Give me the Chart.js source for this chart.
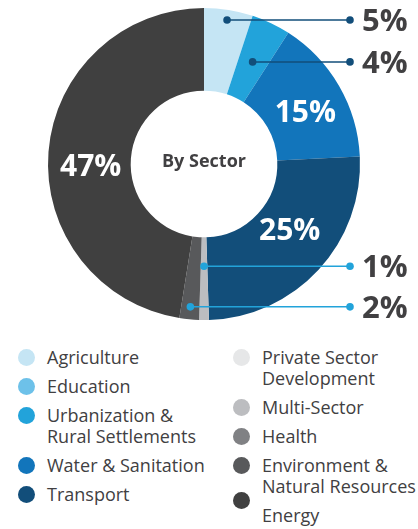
<!DOCTYPE html>
<html>
<head>
<meta charset="utf-8">
<script src="https://cdn.jsdelivr.net/npm/chart.js@4/dist/chart.umd.min.js"></script>
<style>
  html, body { margin: 0; padding: 0; background: #fff; }
  body { width: 418px; height: 529px; position: relative; overflow: hidden; font-family: "Open Sans", sans-serif; color: #414042; }
  #wrap { position: absolute; left: 0; top: 0; width: 418px; height: 328px; }
  #legend { position: absolute; left: 0; top: 347px; width: 418px; font-size: 18px; line-height: 21px; }
  .col { position: absolute; top: 0; }
  .item { display: flex; align-items: flex-start; margin-bottom: 8px; white-space: nowrap; }
  .dot { width: 17px; height: 17px; border-radius: 50%; flex: none; margin-top: 2px; margin-right: 12px; }
  .item.drop { margin-top: -15px; }
  .item.drop .txt { margin-top: 15px; }
</style>
</head>
<body>
<div id="wrap"><canvas id="chart"></canvas></div>
<div id="legend"></div>
<script>
const sectors = [
  "Agriculture", "Urbanization & Rural Settlements", "Water & Sanitation", "Transport",
  "Multi-Sector", "Environment & Natural Resources", "Energy"
];
const shares = [5, 4, 15, 25, 1, 2, 47];
const sectorColors = ["#c5e5f4", "#22a3da", "#1275bb", "#124e7a", "#bcbdc0", "#58595b", "#404040"];

// legend order (includes sectors with no share)
const legendLeft = [
  ["Agriculture", "#c5e5f4"],
  ["Education", "#6dc1e9"],
  ["Urbanization &\nRural Settlements", "#22a3da"],
  ["Water & Sanitation", "#1275bb"],
  ["Transport", "#124e7a"]
];
const legendRight = [
  ["Private Sector\nDevelopment", "#e6e7e8"],
  ["Multi-Sector", "#bcbdc0"],
  ["Health", "#808184"],
  ["Environment &\nNatural Resources", "#58595b"],
  ["Energy", "#404040"]
];

function buildCol(items, left) {
  const col = document.createElement("div");
  col.className = "col";
  col.style.left = left + "px";
  items.forEach(([name, color]) => {
    const it = document.createElement("div");
    it.className = "item" + (name === "Energy" ? " drop" : "");
    const d = document.createElement("span");
    d.className = "dot";
    d.style.background = color;
    const t = document.createElement("span");
    t.className = "txt";
    t.innerHTML = name.replace("&", "&amp;").replace("\n", "<br>");
    it.appendChild(d);
    it.appendChild(t);
    col.appendChild(it);
  });
  document.getElementById("legend").appendChild(col);
}
buildCol(legendLeft, 18);
buildCol(legendRight, 233);

const sliceLabels = {
  id: "sliceLabels",
  afterDatasetsDraw(chart, args, opts) {
    const ctx = chart.ctx;
    const meta = chart.getDatasetMeta(0);
    let k = 0, n = 0;
    meta.data.forEach((arc, i) => {
      const v = shares[i];
      if (!v) return;
      const p = arc.getProps(["x", "y", "startAngle", "endAngle", "innerRadius", "outerRadius"], true);
      const mid = (p.startAngle + p.endAngle) / 2;
      ctx.save();
      if (v >= 10) {
        const r = (p.innerRadius + p.outerRadius) / 2;
        const [ox, oy] = opts.insideNudge[n++];
        ctx.fillStyle = "#fff";
        ctx.font = "bold 30px 'Open Sans'";
        ctx.textAlign = "center";
        ctx.textBaseline = "middle";
        ctx.fillText(v + "%", p.x + r * Math.cos(mid) + ox, p.y + r * Math.sin(mid) + oy);
      } else {
        const r = p.outerRadius * opts.dotRadius[k];
        const dx = p.x + r * Math.cos(mid);
        const dy = p.y + r * Math.sin(mid);
        const c = opts.leaderColor[k];
        ctx.strokeStyle = c;
        ctx.fillStyle = c;
        ctx.lineWidth = 1.5;
        ctx.beginPath();
        ctx.moveTo(dx, dy);
        ctx.lineTo(opts.lineEnd, dy);
        ctx.stroke();
        [dx, opts.lineEnd].forEach((x) => {
          ctx.beginPath();
          ctx.arc(x, dy, 3.8, 0, Math.PI * 2);
          ctx.fill();
        });
        ctx.fillStyle = "#414042";
        ctx.font = "bold 31px 'Open Sans'";
        ctx.textAlign = "left";
        ctx.textBaseline = "middle";
        ctx.fillText(v + "%", opts.lineEnd + 12, dy + 2);
        k++;
      }
      ctx.restore();
    });
    // centre caption
    ctx.save();
    ctx.fillStyle = "#414042";
    ctx.font = "bold 18px 'Open Sans'";
    ctx.textAlign = "center";
    ctx.textBaseline = "middle";
    const a = meta.data[0];
    ctx.fillText("By Sector", a.x, a.y - 2);
    ctx.restore();
  }
};

new Chart(document.getElementById("chart"), {
  type: "doughnut",
  data: {
    labels: sectors,
    datasets: [{
      data: shares,
      backgroundColor: sectorColors,
      borderWidth: 0
    }]
  },
  options: {
    responsive: true,
    maintainAspectRatio: false,
    animation: false,
    cutout: "47%",
    layout: { padding: { left: 0, right: 10, top: 8, bottom: 8 } },
    plugins: {
      legend: { display: false },
      tooltip: { enabled: false },
      sliceLabels: {
        dotRadius: [0.935, 0.725, 0.655, 0.92],
        leaderColor: ["#124e7a", "#124e7a", "#22a3da", "#22a3da"],
        insideNudge: [[2, 7], [1.5, -10.5], [1, 12.5]],
        lineEnd: 350
      }
    }
  },
  plugins: [sliceLabels]
});
</script>
</body>
</html>
